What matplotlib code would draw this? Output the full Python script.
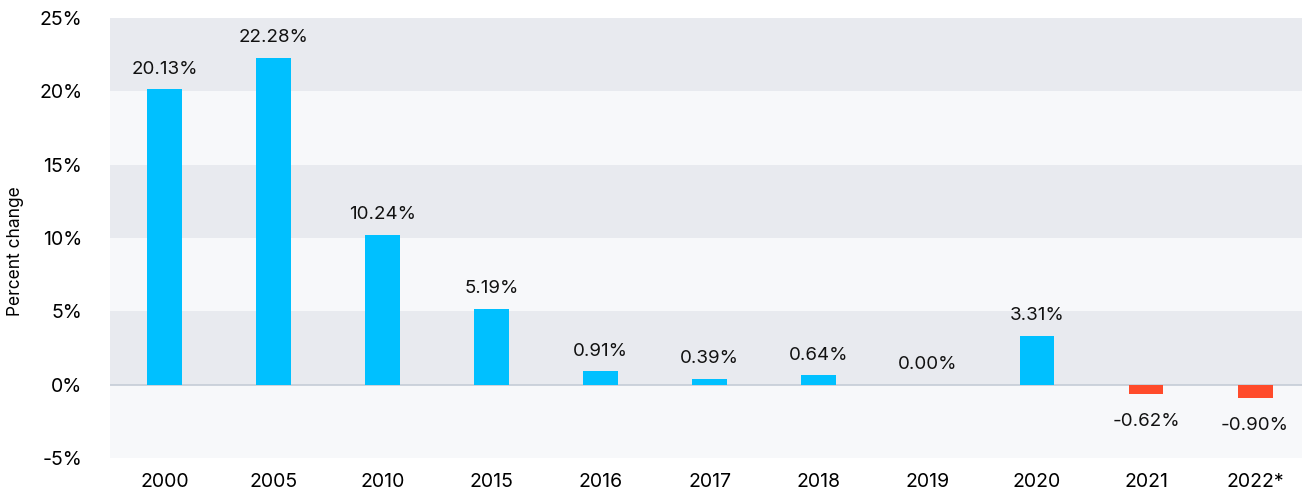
import matplotlib.pyplot as plt
import numpy as np

years = ['2000', '2005', '2010', '2015', '2016', '2017', '2018', '2019', '2020', '2021', '2022*']
changes = [20.13, 22.28, 10.24, 5.19, 0.91, 0.39, 0.64, 0.00, 3.31, -0.62, -0.90]
y_ticks = [-5, 0, 5, 10, 15, 20, 25]

plt.rcParams['font.family'] = ['Inter', 'DejaVu Sans']

fig = plt.figure(figsize=(13.02, 4.96), dpi=100)
ax = fig.add_axes([0.0845, 0.0766, 0.9155, 0.887])

# alternating horizontal bands
band_dark = '#e8eaef'
band_light = '#f7f8fa'
for i in range(len(y_ticks) - 1):
    lo, hi = y_ticks[i], y_ticks[i + 1]
    color = band_light if i % 2 == 0 else band_dark
    ax.axhspan(lo, hi, color=color, zorder=0, lw=0)

x = np.arange(len(years))
colors = ['#00c0ff' if v >= 0 else '#ff4b2b' for v in changes]
ax.bar(x, changes, width=0.32, color=colors, zorder=2)
ax.axhline(0, color='#c5ccd6', lw=1.2, zorder=1)

for xi, v in zip(x, changes):
    if v >= 0:
        ax.text(xi, v + 0.8, f'{v:.2f}%', ha='center', va='bottom', fontsize=13.5, color='#111111')
    else:
        ax.text(xi, v - 1.3, f'{v:.2f}%', ha='center', va='top', fontsize=13.5, color='#111111')

ax.set_xlim(-0.5, 10.43)
ax.set_ylim(-5, 25)
ax.set_xticks(x)
ax.set_xticklabels(years, fontsize=14)
ax.set_yticks(y_ticks)
ax.set_yticklabels([f'{t}%' for t in y_ticks], fontsize=14)
ax.tick_params(length=0, pad=11)
ax.tick_params(axis='y', pad=20)
for s in ax.spines.values():
    s.set_visible(False)
ax.set_ylabel('Percent change', fontsize=12.5)
ax.yaxis.set_label_coords(-0.072, 0.47)

fig.savefig('out.png', dpi=100)
